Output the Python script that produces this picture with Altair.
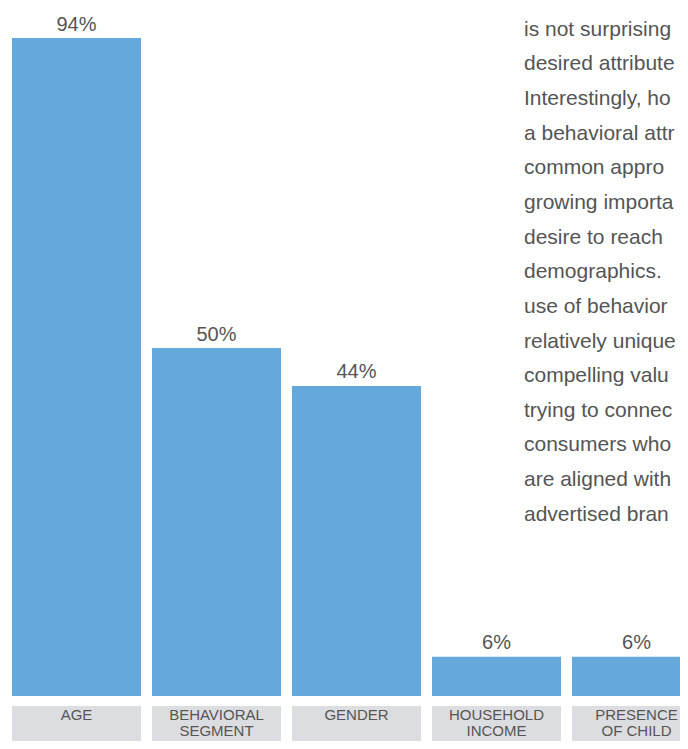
import altair as alt
import pandas as pd

categories = ["AGE", "BEHAVIORAL\nSEGMENT", "GENDER", "HOUSEHOLD\nINCOME", "PRESENCE\nOF CHILD"]
values = [94, 49.7, 44.3, 5.6, 5.6]
value_labels = ["94%", "50%", "44%", "6%", "6%"]

paragraph_lines = [
    "included age in",
    "is not surprising",
    "desired attribute",
    "Interestingly, ho",
    "a behavioral attr",
    "common appro",
    "growing importa",
    "desire to reach",
    "demographics.",
    "use of behavior",
    "relatively unique",
    "compelling valu",
    "trying to connec",
    "consumers who",
    "are aligned with",
    "advertised bran",
]

FONT = "Liberation Sans"
TEXT_COLOR = "#555555"
BAR_COLOR = "#65a9dc"
BOX_COLOR = "#dcdde0"

df = pd.DataFrame({"cat": categories, "value": values, "label": value_labels})
pdf = pd.DataFrame({"row": list(range(len(paragraph_lines))), "line": paragraph_lines})

x = alt.X(
    "cat:N",
    sort=categories,
    scale=alt.Scale(range=[4, 693], paddingInner=11 / 140, paddingOuter=0),
    axis=None,
)
y = alt.Y("value:Q", scale=alt.Scale(domain=[0, 100], range=[688, -12]), axis=None)

base = alt.Chart(df)

boxes = base.mark_bar(color=BOX_COLOR).encode(x=x, y=alt.value(698), y2=alt.value(780))
bars = base.mark_bar(color=BAR_COLOR).encode(x=x, y=y)
vlabels = base.mark_text(
    font=FONT, fontSize=20, color=TEXT_COLOR, baseline="alphabetic", dy=-7.5
).encode(x=x, y=y, text="label:N")
clabels = base.mark_text(
    font=FONT, fontSize=15, color=TEXT_COLOR, baseline="alphabetic",
    lineBreak="\n", lineHeight=16,
).encode(x=x, y=alt.value(712), text="cat:N")

para = alt.Chart(pdf).mark_text(
    font=FONT, fontSize=21, color=TEXT_COLOR, align="left", baseline="alphabetic"
).encode(
    x=alt.value(516),
    y=alt.Y("row:Q", scale=alt.Scale(domain=[0, 15], range=[-6.9, 512.7]), axis=None),
    text="line:N",
)

chart = (
    alt.layer(boxes, bars, vlabels, clabels, para)
    .resolve_scale(y="independent")
    .properties(width=672, height=733, padding=0, autosize="none")
    .configure_view(stroke=None)
)

chart.save("out.html", embed_options={"renderer": "svg", "actions": False})
